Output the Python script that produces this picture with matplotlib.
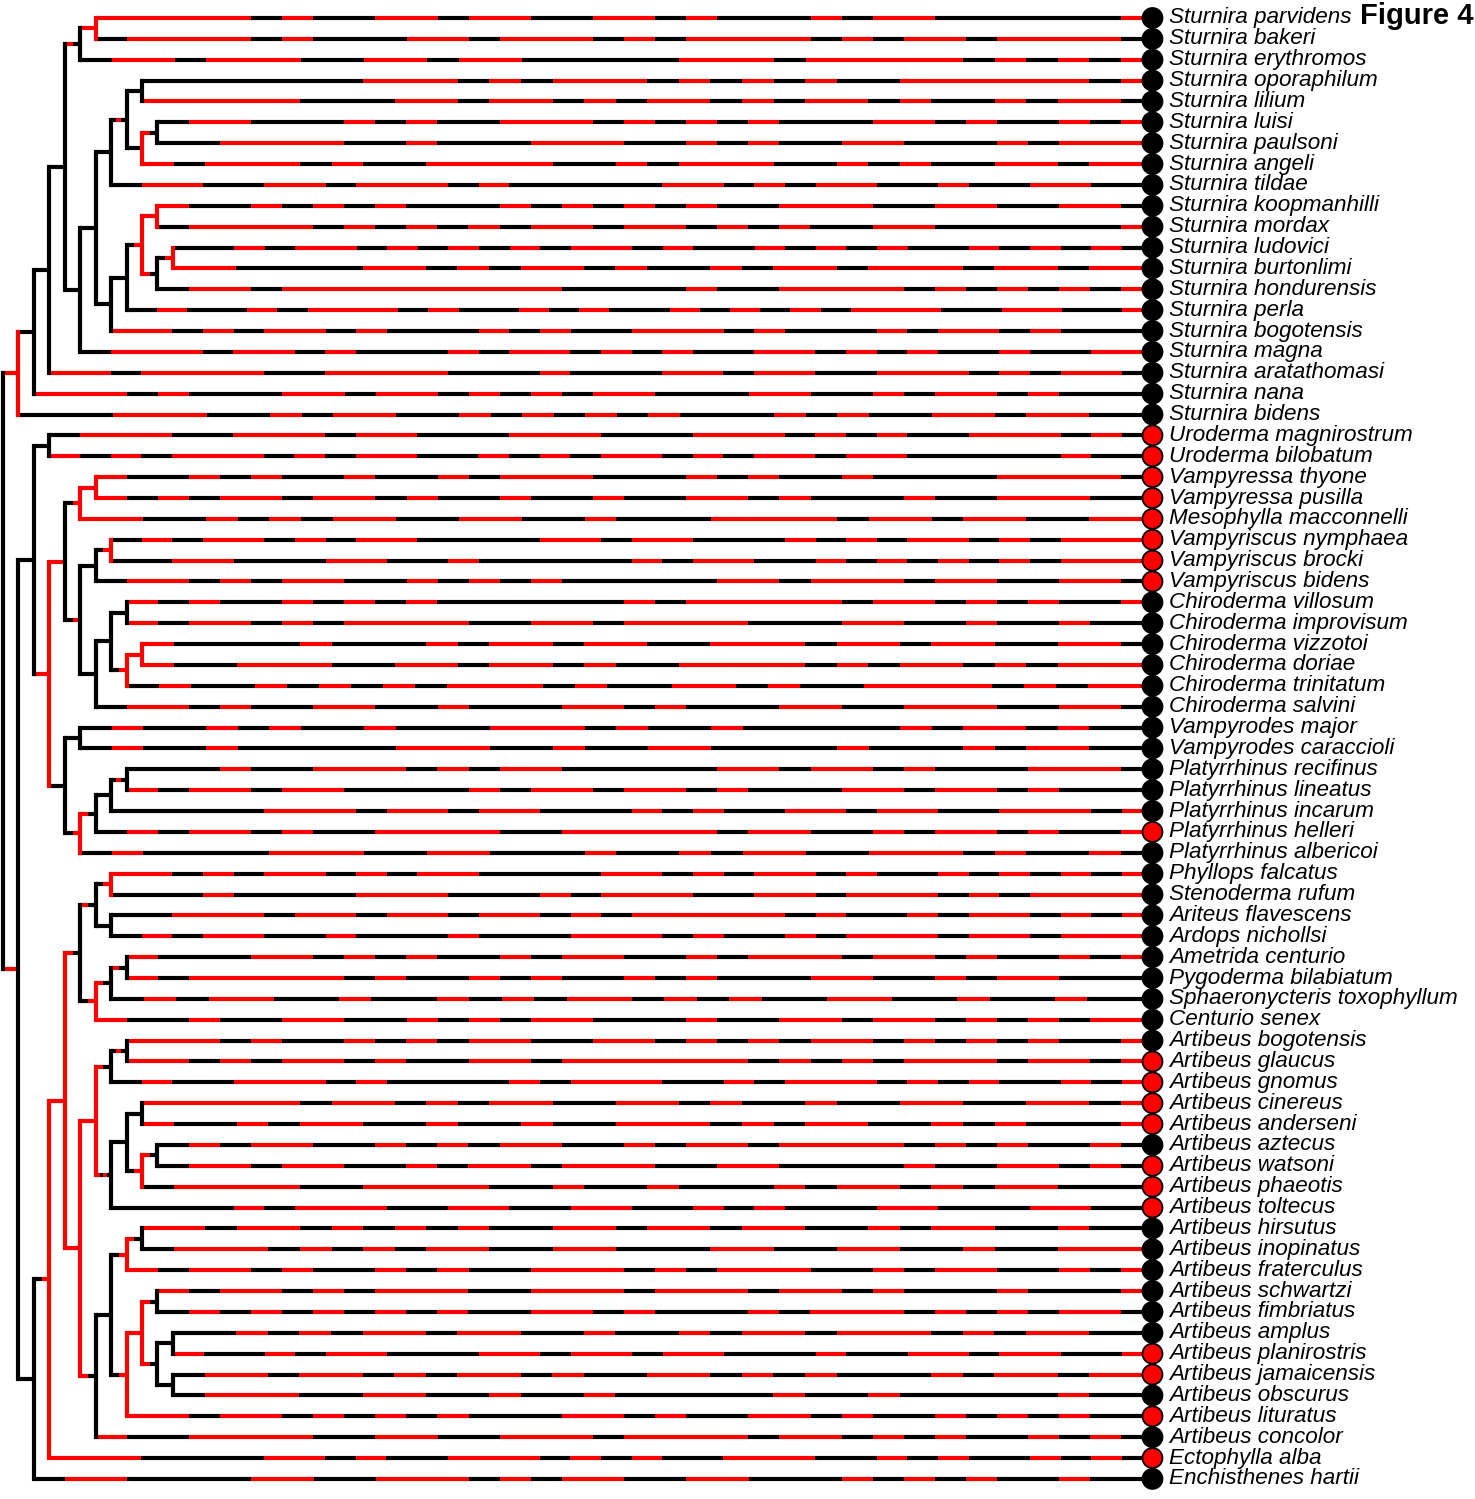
import matplotlib
matplotlib.use("Agg")
import matplotlib.pyplot as plt
from matplotlib.collections import LineCollection

# tip labels, top to bottom
species = [
    "Sturnira parvidens", "Sturnira bakeri", "Sturnira erythromos", "Sturnira oporaphilum",
    "Sturnira lilium", "Sturnira luisi", "Sturnira paulsoni", "Sturnira angeli",
    "Sturnira tildae", "Sturnira koopmanhilli", "Sturnira mordax", "Sturnira ludovici",
    "Sturnira burtonlimi", "Sturnira hondurensis", "Sturnira perla", "Sturnira bogotensis",
    "Sturnira magna", "Sturnira aratathomasi", "Sturnira nana", "Sturnira bidens",
    "Uroderma magnirostrum", "Uroderma bilobatum", "Vampyressa thyone", "Vampyressa pusilla",
    "Mesophylla macconnelli", "Vampyriscus nymphaea", "Vampyriscus brocki", "Vampyriscus bidens",
    "Chiroderma villosum", "Chiroderma improvisum", "Chiroderma vizzotoi", "Chiroderma doriae",
    "Chiroderma trinitatum", "Chiroderma salvini", "Vampyrodes major", "Vampyrodes caraccioli",
    "Platyrrhinus recifinus", "Platyrrhinus lineatus", "Platyrrhinus incarum", "Platyrrhinus helleri",
    "Platyrrhinus albericoi", "Phyllops falcatus", "Stenoderma rufum", "Ariteus flavescens",
    "Ardops nichollsi", "Ametrida centurio", "Pygoderma bilabiatum", "Sphaeronycteris toxophyllum",
    "Centurio senex", "Artibeus bogotensis", "Artibeus glaucus", "Artibeus gnomus",
    "Artibeus cinereus", "Artibeus anderseni", "Artibeus aztecus", "Artibeus watsoni",
    "Artibeus phaeotis", "Artibeus toltecus", "Artibeus hirsutus", "Artibeus inopinatus",
    "Artibeus fraterculus", "Artibeus schwartzi", "Artibeus fimbriatus", "Artibeus amplus",
    "Artibeus planirostris", "Artibeus jamaicensis", "Artibeus obscurus", "Artibeus lituratus",
    "Artibeus concolor", "Ectophylla alba", "Enchisthenes hartii",
]

# tips in the red state
red_tips = [
    "Uroderma magnirostrum", "Uroderma bilobatum", "Vampyressa thyone", "Vampyressa pusilla",
    "Mesophylla macconnelli", "Vampyriscus nymphaea", "Vampyriscus brocki", "Vampyriscus bidens",
    "Platyrrhinus helleri", "Artibeus glaucus", "Artibeus gnomus", "Artibeus cinereus",
    "Artibeus anderseni", "Artibeus watsoni", "Artibeus phaeotis", "Artibeus toltecus",
    "Artibeus planirostris", "Artibeus jamaicensis", "Artibeus lituratus", "Ectophylla alba",
]

# topology; internal label = "<vertical state>-<states along the edge into the node>"
tree_newick = (
    "(((((((Sturnira_parvidens,Sturnira_bakeri)r-r,Sturnira_erythromos)k-rk,"
    "(((((Sturnira_oporaphilum,Sturnira_lilium)k-k,"
    "((Sturnira_luisi,Sturnira_paulsoni)k-rk,Sturnira_angeli)r-k)k-krk,Sturnira_tildae)k-k,"
    "((((Sturnira_koopmanhilli,Sturnira_mordax)r-r,"
    "((Sturnira_ludovici,Sturnira_burtonlimi)r-kr,Sturnira_hondurensis)k-rk)r-kr,"
    "Sturnira_perla)k-k,Sturnira_bogotensis)k-k)k-k,Sturnira_magna)k-k)k-k,"
    "Sturnira_aratathomasi)k-k,Sturnira_nana)k-k,Sturnira_bidens)r-r,"
    "(((Uroderma_magnirostrum,Uroderma_bilobatum)k-k,"
    "((((Vampyressa_thyone,Vampyressa_pusilla)r-r,Mesophylla_macconnelli)r-kr,"
    "(((Vampyriscus_nymphaea,Vampyriscus_brocki)r-kr,Vampyriscus_bidens)k-k,"
    "(((Chiroderma_villosum,Chiroderma_improvisum)k-k,"
    "((Chiroderma_vizzotoi,Chiroderma_doriae)r-r,Chiroderma_trinitatum)r-kr)k-k,"
    "Chiroderma_salvini)k-k)k-kr)k-r,"
    "((Vampyrodes_major,Vampyrodes_caraccioli)k-k,"
    "((((Platyrrhinus_recifinus,Platyrrhinus_lineatus)k-krk,Platyrrhinus_incarum)k-k,"
    "Platyrrhinus_helleri)k-rk,Platyrrhinus_albericoi)r-kr)k-k)r-r)k-k,"
    "((((((Phyllops_falcatus,Stenoderma_rufum)r-kr,"
    "(Ariteus_flavescens,Ardops_nichollsi)k-k)k-rk,"
    "(((Ametrida_centurio,Pygoderma_bilabiatum)k-rk,Sphaeronycteris_toxophyllum)k-rk,"
    "Centurio_senex)r-kr)k-rk,"
    "((((Artibeus_bogotensis,Artibeus_glaucus)k-krk,Artibeus_gnomus)k-rk,"
    "(((Artibeus_cinereus,Artibeus_anderseni)k-k,"
    "((Artibeus_aztecus,Artibeus_watsoni)k-rk,Artibeus_phaeotis)r-kr)k-k,"
    "Artibeus_toltecus)k-rkrk)r-r,"
    "((((Artibeus_hirsutus,Artibeus_inopinatus)k-rk,Artibeus_fraterculus)r-kr,"
    "(((Artibeus_schwartzi,Artibeus_fimbriatus)k-rk,"
    "((Artibeus_amplus,Artibeus_planirostris)k-k,(Artibeus_jamaicensis,Artibeus_obscurus)k-k)k-rk)r-r,"
    "Artibeus_lituratus)r-kr)k-k,Artibeus_concolor)k-rk)r-r)r-r,"
    "Ectophylla_alba)r-kr,Enchisthenes_hartii)k-k)k-r)k;"
)

# mapped states along each terminal edge (r = red, k = black), same order as species
tip_maps = [
    "rrrrrkrkkrrkrrkkrrkrkkkrkrrkkkkkkr", "krrrrkrkkkrrkrrrkrkrrrrkrkrrkrrrrk",
    "krrkrrrkkrrkrrkkkkkrrrkrrrrrkrkrkr", "kkkkkkkrrrkrkrrrkrkrkrkkrrrrrrkr",
    "rrrrrkkkrrkrrkrkrrkrkrrkrkkrkrrk", "krrkkkrkrkkrrrkrkrkrkkkrrkrkkrkr",
    "kkrrrrkkrkkkrrrkkrkrkkrrkkkrkrrr", "rkrrrkrkkrrrrkkrkrrrkkrkrkkrrkrr",
    "krrkkrrkrrrkrkkkkkrrkrkrrkkrkkrrkk", "rkkrkrkrkkkrkrkrkrkkrrrkkrrkkrrk",
    "krrrrkrkrkrkrrkrrkrkrkkrrkkkkkkr", "kkrkrrkrkrkrkrrkrkkrkrkrkkrkrkrk",
    "rrkkkkrrkrkrrkrkkrkrrkrrrkrrkrr", "krrkrrrrrrrrrkkkkrkkrrrrkrkrkrkr",
    "krkkrkrrrkrkkrkrkkrkrkrkrrrkkrrkkr", "rrkrkrrkrkkkrkrkkrrrkrkkkrkrrkrkkk",
    "krrrkrrkrkkkrkrrkrkrkkrrkrkrkkrkkrr", "rrkrrrrkkrrrrkkkrkkkrrkrrkkrrrkrkrrk",
    "rrrkrkkkrrkrrkrkrkrrkkkrrkkrkrrkrkkk", "kkkrrrkkrkrrkkrkrkrkrkkkrkrkkrrkrrkk",
    "krrrkkrrrkrrkkkrrrkkkrrrkrkrkkrrrkrk", "rkrkrrrkrkrrkkrkrkrrkrkrrkrrkkkkkrkk",
    "rkkrkrkkrkkrkrrrkkkrkrkkrkkkkrrrrk", "rkrkrrkrrkrkkrkkrkkrrkrkkkrkkrrrkk",
    "rrkkrkrkrrkkrrkkrkkkrrrrkrrkrrkkrr", "krkrrkrkrrkkkkrrkrrkkkrkrkrrkrkrrr",
    "kkrrkkkrrkkrkkkkkrkrrkkrkrkrkrkrrr", "krrkrkrrkkrkrkrkkkkkrrkrrrkrrkkrrk",
    "rkrkkrkrkrkkkkkkrkrrrrrkrrkrkrkkr", "rkrrkrkrrrrkkrrkrrrrkkkrrkkrkkrkk",
    "rkkkkrkkkrkrrkrrkkrrrkrrkrrkkrrk", "rkkrrrkkrrkrrkrkkrrrrkrkrrkrkrrr",
    "krkkrkrkrkrrrkrkkrrkrkkrrrrkrkrr", "krrkrkkrrkkrkkkrrkrkkkrrkkrrrkkrrk",
    "krkkrkrkkrkkkrrrkrkkrkkkkkrkrrkrkk", "krkkrkkkkkrrrkkrkkrrkkkkrkkkrkrrkk",
    "kkkrkkrrrkrkrrkkkkkrrkrrkrkkkrrrk", "rkrrkrrkkkkrkrrkrrkrkkkrrkrrkrkkk",
    "kkkkkrrrkrrkrrkkkrkrkkrrkrrkkrrrkr", "krkrrkrkkrrrrkkrrrrrkrrkkrkrrkrkkr",
    "krkkkkrrrkkrrkkkrkkrkrrkkrrrkrkkrk", "rrkrkrrkrkrrkkkkrrkrkrrkrkkrkrkrkr",
    "kkkrkkkkrrrkkkrkrrrkkrrkrrrkrkrrrr", "kkrrrkrrkrrkrrkrkrrrrrkrkkrkrrkrkr",
    "krkrrkkrkkkrkkkrrrkrkkrkrrrkrrkrrr", "rkkkrrkrkrkkrkrrkkrkrrrkrrkrkkrkr",
    "rkrrrrrkrkkrkrkkrkrkkkrrkkrkrrkkk", "krkrrkkrkkrkrkrrkrkrkkrrkkrkkrkk",
    "rkkrkkrrkkrkrkrrkkkrkkrrkrrkrkrkrr", "rrrkrkkrkrkrrkkrrkrkrkrrkrkrkrkkr",
    "rrkrkrrkrkkrrkrrrrrrkrkrkrrrkrrkr", "krkkrrrkrkkkkrkrrrkkrkrrrkrkrkkrkr",
    "rrrrrkrrkrkrrkkrrkrkkrkkrrkkrrkr", "rkkrkrrkkrkkrkkrrrkrkrrkkrkrkkkr",
    "krkrrkkrkrkrrkkrkrrkrrrrkrkrkkrk", "krrkrrkkrkrrkrrrkkrrkkkkrkkrrkrk",
    "krrrrkkrrrrkkrkkrkkkrkrrkrkrrkkk", "kkkkrkrrrkkrrkkrrkkrkrkkkrrkkkrrkk",
    "rrkrrkrkrkrkkrrkrrkrrkkrkrrkkrkk", "krrrkrkrkrrkkrrkkkrrkkrrkkrkkrrr",
    "rkrrkrkkrkrkkrrrkrkrrrkkrkrrkkrkr", "rkrrkrkrrrkkrrrkrrrkrrkrkkkrkkkr",
    "krkrkrkrkrkkrrkrkkkrkrrrkrkrkrrk", "kkrkrkrrkrrkkrkkrkrrkrrrkrkrrkk",
    "rkkrkrrkkkrrkrrkrrkkkrkkrrkrrkkr", "krrkrrkrkrrkrkkrrkrkrkkkrkrrkrr",
    "krrrkkrrkkrkkrkkkkkrkkrkkkkkrkk", "rrkrrkrkrkrkkkrrkrkkrrkrkkrkrkrkk",
    "rkkrrrrkkrrkkrrrkrrrrkrrkrkrkkrkrk", "rrrkkkkrrkrkkrrrkrkrkkrrrkkrkrkkrkrk",
    "krrkkkkrrkkrrrkrkrrkkrrkkkrkrkrkkrkk",
]

COL = {"r": "#ff0000", "k": "#000000"}
UNIT = 15.45      # px per node depth
X0 = 3.0          # root position, px
TIP_X = 74.4      # tip position, depth units
Y0, DY = 18.0, 20.87


def parse(s):
    pos = 0

    def node():
        nonlocal pos
        if s[pos] == "(":
            pos += 1
            kids = [node()]
            while s[pos] == ",":
                pos += 1
                kids.append(node())
            pos += 1
            start = pos
            while s[pos] not in ",);":
                pos += 1
            vert, _, edge = s[start:pos].partition("-")
            return {"kids": kids, "vert": vert, "edge": edge}
        start = pos
        while s[pos] not in ",);":
            pos += 1
        return {"name": s[start:pos].replace("_", " ")}

    return node()


root = parse(tree_newick)
tip_index = {name: i for i, name in enumerate(species)}

hsegs, hcols, vsegs, vcols = [], [], [], []


def add_edge(x0, x1, y, pattern):
    n = len(pattern)
    step = (x1 - x0) / n
    i = 0
    while i < n:
        j = i
        while j < n and pattern[j] == pattern[i]:
            j += 1
        hsegs.append([(x0 + i * step, y), (x0 + j * step, y)])
        hcols.append(COL[pattern[i]])
        i = j


def layout(nd, depth):
    # returns y of node; draws edges to children
    if "name" in nd:
        return tip_index[nd["name"]]
    ys = []
    for kid in nd["kids"]:
        y = layout(kid, depth + 1)
        ys.append(y)
        if "name" in kid:
            add_edge(depth, TIP_X, y, tip_maps[tip_index[kid["name"]]])
        else:
            add_edge(depth, depth + 1, y, kid["edge"])
    vsegs.append([(depth, ys[0]), (depth, ys[-1])])
    vcols.append(COL[nd["vert"]])
    return (ys[0] + ys[-1]) / 2


layout(root, 0)

fig = plt.figure(figsize=(14.75, 14.99), dpi=100)
ax = fig.add_axes([0, 0, 1, 1])
ax.set_xlim(-X0 / UNIT, (1475 - X0) / UNIT)
ax.set_ylim((1499 - Y0) / DY, -Y0 / DY)
ax.axis("off")

lw = 3.0
ax.add_collection(LineCollection(hsegs, colors=hcols, linewidths=lw, capstyle="butt", zorder=2))
ax.add_collection(LineCollection(vsegs, colors=vcols, linewidths=lw, capstyle="projecting", zorder=3))

ys = list(range(len(species)))
face = ["#ff0000" if s in red_tips else "#000000" for s in species]
ax.scatter([TIP_X] * len(ys), ys, s=14.4 ** 2, c=face, edgecolors="#000000",
           linewidths=1.3, zorder=4)

for i, name in enumerate(species):
    ax.text(TIP_X + 1.05, i, name, ha="left", va="center", fontsize=16.2,
            style="italic", family=["Liberation Sans", "DejaVu Sans"])

fig.text(1474 / 1475, 1 - 16 / 1499, "Figure 4", ha="right", va="center",
         fontsize=21, weight="bold", family=["Liberation Sans", "DejaVu Sans"])

fig.savefig("out.png", dpi=100)
